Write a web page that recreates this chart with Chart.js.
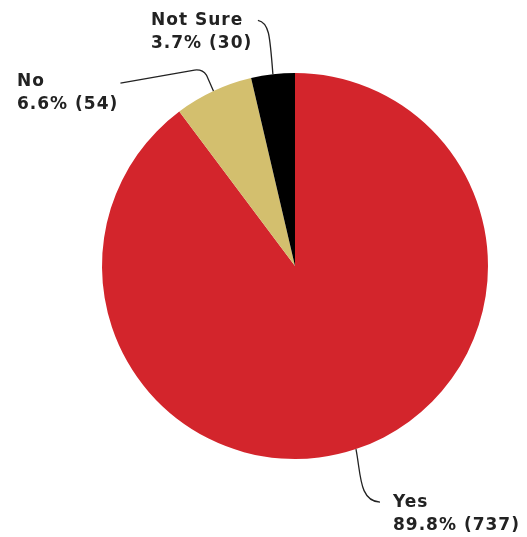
<!DOCTYPE html>
<html lang="en">
<head>
    <meta charset="UTF-8">
    <title>Survey Pie</title>
    <script src="https://cdn.jsdelivr.net/npm/chart.js"></script>
    <style>
        html, body { margin: 0; padding: 0; background: #fff; }
        #wrap { width: 527px; height: 537px; position: relative; }
    </style>
</head>
<body>
    <div id="wrap"><canvas id="chart"></canvas></div>
    <script>
        // data
        const labels = ['Yes', 'No', 'Not Sure'];
        const counts = [737, 54, 30];
        const percents = ['89.8%', '6.6%', '3.7%'];
        const colors = ['#d3252c', '#d3bf6e', '#000000'];

        // where each label sits and how its leader line bends (relative to the slice edge point)
        const labelLayout = [
            { x: 393, y: 507, path: [['C', 5, 25, 3, 52, 24, 53]] },
            { x: 17, y: 86, path: [['L', -7, -16], ['Q', -11, -22, -19, -21], ['L', -93, -8]] },
            { x: 151, y: 25, path: [['C', -3, -40, -4, -52, -15, -54]] }
        ];

        const leaderPlugin = {
            id: 'leaders',
            afterDraw(chart) {
                const ctx = chart.ctx;
                const meta = chart.getDatasetMeta(0);
                meta.data.forEach((arc, i) => {
                    const mid = (arc.startAngle + arc.endAngle) / 2;
                    const ex = arc.x + Math.cos(mid) * arc.outerRadius;
                    const ey = arc.y + Math.sin(mid) * arc.outerRadius;
                    const lay = labelLayout[i];
                    ctx.save();
                    ctx.strokeStyle = '#222';
                    ctx.lineWidth = 1.3;
                    ctx.beginPath();
                    ctx.moveTo(ex, ey);
                    lay.path.forEach(seg => {
                        const p = seg.slice(1);
                        if (seg[0] === 'L') ctx.lineTo(ex + p[0], ey + p[1]);
                        if (seg[0] === 'Q') ctx.quadraticCurveTo(ex + p[0], ey + p[1], ex + p[2], ey + p[3]);
                        if (seg[0] === 'C') ctx.bezierCurveTo(ex + p[0], ey + p[1], ex + p[2], ey + p[3], ex + p[4], ey + p[5]);
                    });
                    ctx.stroke();

                    ctx.fillStyle = '#222';
                    ctx.textBaseline = 'alphabetic';
                    ctx.textAlign = 'left';
                    ctx.font = 'bold 17px "DejaVu Sans"';
                    ctx.letterSpacing = '1px';
                    ctx.fillText(labels[i], lay.x, lay.y);
                    ctx.fillText(percents[i] + ' (' + counts[i] + ')', lay.x, lay.y + 23);
                    ctx.restore();
                });
            }
        };

        new Chart(document.getElementById('chart'), {
            type: 'pie',
            data: {
                labels: labels,
                datasets: [{
                    data: counts,
                    backgroundColor: colors,
                    borderWidth: 0
                }]
            },
            options: {
                responsive: true,
                maintainAspectRatio: false,
                animation: false,
                layout: { padding: { left: 102, right: 39, top: 73, bottom: 78 } },
                plugins: {
                    legend: { display: false },
                    tooltip: { enabled: false }
                }
            },
            plugins: [leaderPlugin]
        });
    </script>
</body>
</html>
